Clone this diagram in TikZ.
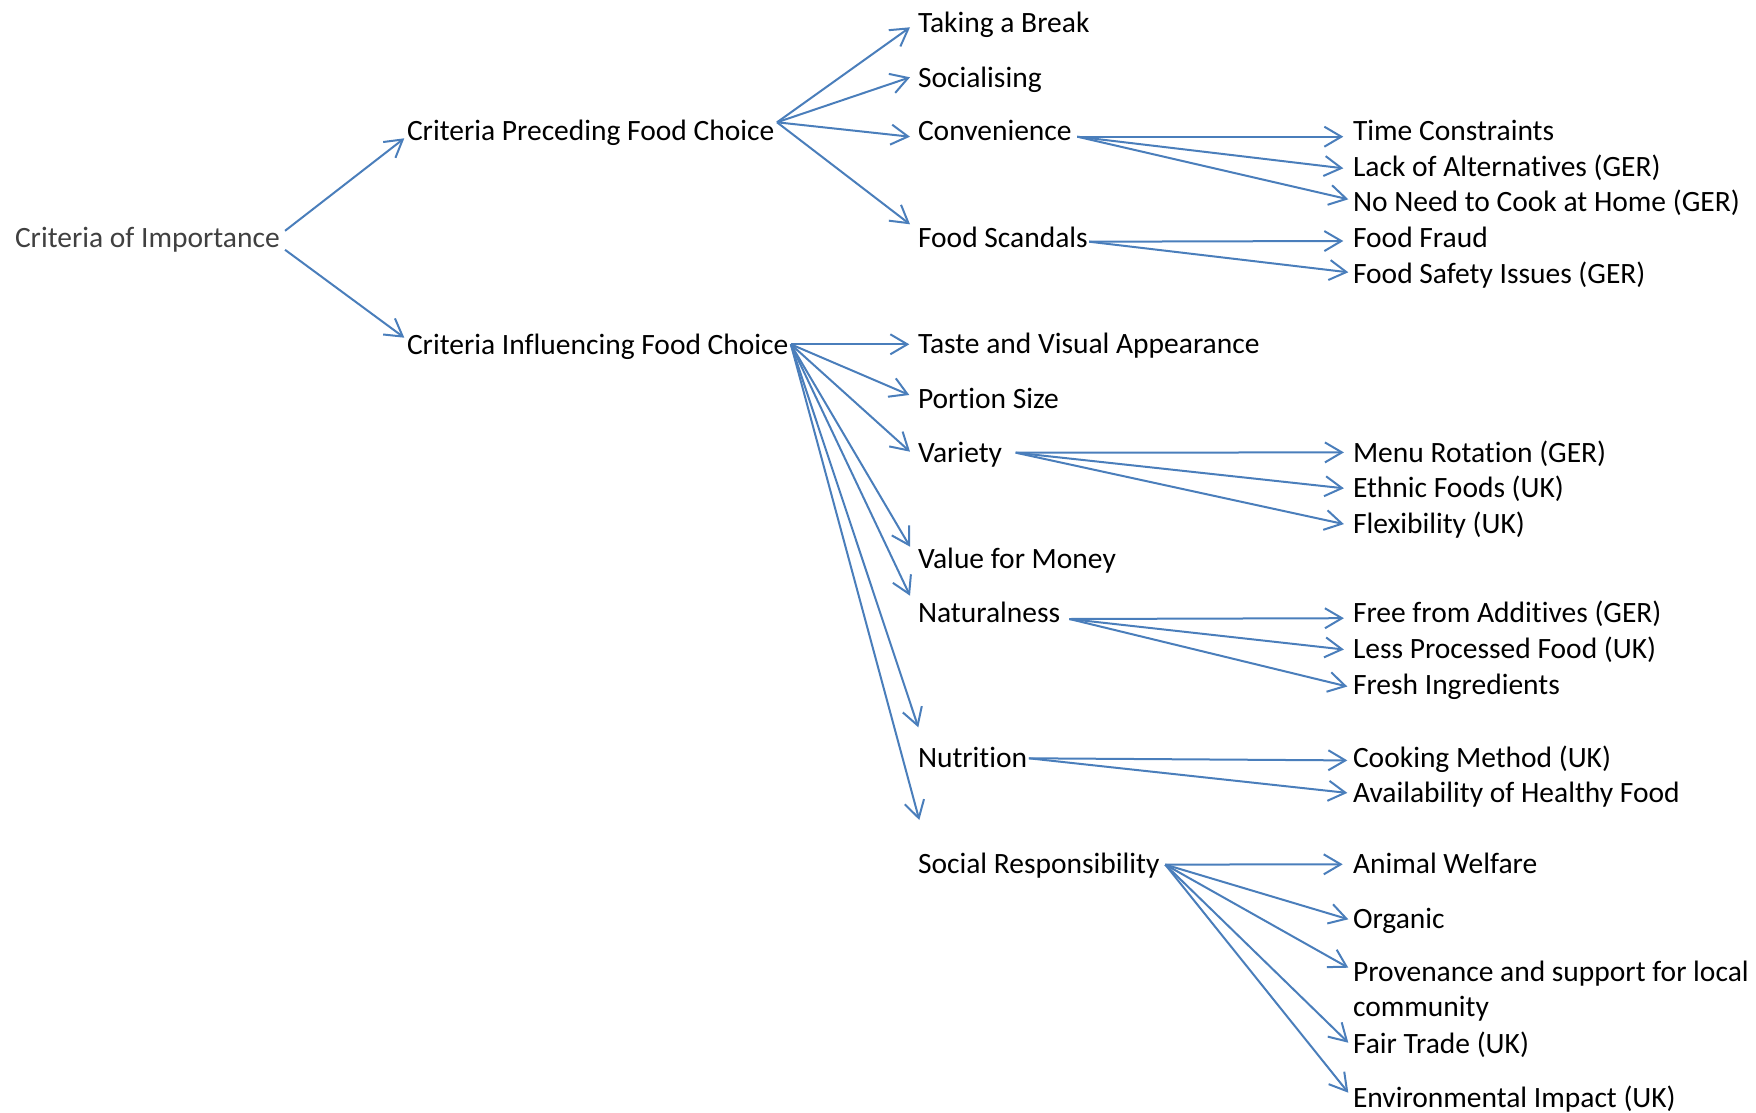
\documentclass[tikz,border=0pt]{standalone}
\usepackage{fontspec}
\setmainfont{Carlito}[RawFeature={-liga}]
\usetikzlibrary{arrows.meta}
\definecolor{linkblue}{RGB}{74,126,187}
\definecolor{rootgray}{RGB}{64,64,64}
\begin{document}
\begin{tikzpicture}[x=0.5pt,y=-0.5pt,
  lbl/.style={anchor=base west, inner sep=0pt, outer sep=0pt,
    text height=9.4pt, text depth=2.6pt,
    font=\fontsize{14.75pt}{17.5pt}\selectfont},
  arr/.style={draw=linkblue, line width=1pt,
    -{Straight Barb[length=8.5pt,width=10pt]}}]
\useasboundingbox (0,0) rectangle (1756,1113);

% root and first level
\node[lbl, text=rootgray] (coi) at (15,247) {Criteria of Importance};
\node[lbl] (cpfc) at (407,140.5) {Criteria Preceding Food Choice};
\node[lbl] (cifc) at (407,354.8) {Criteria Influencing Food Choice};

% second level
\node[lbl] (tab)     at (918,32.8)  {Taking a Break};
\node[lbl] (soc)     at (918,87.8)  {Socialising};
\node[lbl] (conv)    at (918,140.5) {Convenience};
\node[lbl] (fs)      at (918,247.2) {Food Scandals};
\node[lbl] (taste)   at (918,353.8) {Taste and Visual Appearance};
\node[lbl] (portion) at (918,408.2) {Portion Size};
\node[lbl] (variety) at (918,462.2) {Variety};
\node[lbl] (vfm)     at (918,568.8) {Value for Money};
\node[lbl] (nat)     at (918,622.8) {Naturalness};
\node[lbl] (nut)     at (918,767.2) {Nutrition};
\node[lbl] (sr)      at (918,873.8) {Social Responsibility};

% third level
\node[lbl] (tc)      at (1353,140.5)  {Time Constraints};
\node[lbl] (lack)    at (1353,176.2)  {Lack of Alternatives (GER)};
\node[lbl] (noneed)  at (1353,211.9)  {No Need to Cook at Home (GER)};
\node[lbl] (ff)      at (1353,247.6)  {Food Fraud};
\node[lbl] (fsi)     at (1353,283.3)  {Food Safety Issues (GER)};
\node[lbl] (menu)    at (1353,462.2)  {Menu Rotation (GER)};
\node[lbl] (ethnic)  at (1353,497.9)  {Ethnic Foods (UK)};
\node[lbl] (flex)    at (1353,533.6)  {Flexibility (UK)};
\node[lbl] (free)    at (1353,622.8)  {Free from Additives (GER)};
\node[lbl] (less)    at (1353,658.5)  {Less Processed Food (UK)};
\node[lbl] (fresh)   at (1353,694.2)  {Fresh Ingredients};
\node[lbl] (cook)    at (1353,767.2)  {Cooking Method (UK)};
\node[lbl] (avail)   at (1353,802.9)  {Availability of Healthy Food};
\node[lbl] (animal)  at (1353,873.8)  {Animal Welfare};
\node[lbl] (organic) at (1353,928.2)  {Organic};
\node[lbl] (prov)    at (1353,981.5)
  {\vtop{\hbox{Provenance and support for local}\hbox{community}}};
\node[lbl] (fair)    at (1353,1053.2) {Fair Trade (UK)};
\node[lbl] (env)     at (1353,1107.2) {Environmental Impact (UK)};

% connectors
\draw[arr] ([shift={(5.3,-9.4)}]coi.east) -- ([shift={(-2.7,4.6)}]cpfc.west);
\draw[arr] ([shift={(5.3,9.6)}]coi.east) -- ([shift={(-2.7,-10.3)}]cifc.west);

\foreach \n/\dx/\dy in {tab/-8/1.3, soc/-8/-3.7, conv/-8/3, fs/-8/-16.1}
  \draw[arr] ([shift={(2.7,-11.4)}]cpfc.east) -- ([shift={(\dx,\dy)}]\n.west);

\foreach \n/\dx/\dy in {taste/-8.7/-2.7, portion/-8.7/-6.4, variety/-8/-3.7,
    vfm/-8/-15.3, nat/-8/-20.3, nut/0.3/-33.1, sr/1.3/-47}
  \draw[arr] ([shift={(2.3,-3.7)}]cifc.east) -- ([shift={(\dx,\dy)}]\n.west);

\foreach \n/\dx/\dy in {tc/-9.7/3, lack/-9.7/-1.1, noneed/-4.7/-5.8}
  \draw[arr] ([shift={(5.7,3)}]conv.east) -- ([shift={(\dx,\dy)}]\n.west);

\foreach \n/\dx/\dy in {ff/-9.7/0.2, fsi/-4.7/-4.2}
  \draw[arr] ([shift={(1.3,1.3)}]fs.east) -- ([shift={(\dx,\dy)}]\n.west);

\foreach \n/\dx/\dy in {menu/-9.1/-3, ethnic/-9.1/-2.8, flex/-9.1/-2.7}
  \draw[arr] ([shift={(13.7,-2.7)}]variety.east) -- ([shift={(\dx,\dy)}]\n.west);

\foreach \n/\dx/\dy in {free/-9.1/2.2, less/-9.1/-2.2, fresh/-5.7/-0.9}
  \draw[arr] ([shift={(9.3,3)}]nat.east) -- ([shift={(\dx,\dy)}]\n.west);

\foreach \n/\dx/\dy in {cook/-5.7/0, avail/-5.7/-3.2}
  \draw[arr] ([shift={(1.7,-2.1)}]nut.east) -- ([shift={(\dx,\dy)}]\n.west);

\foreach \n/\dx/\dy in {animal/-10.3/-2.7, organic/-4.7/-2.1, prov/-4.7/-7,
    fair/-4.7/-3.7, env/-4.7/-7.7}
  \draw[arr] ([shift={(5.7,-2.4)}]sr.east) -- ([shift={(\dx,\dy)}]\n.west);
\end{tikzpicture}
\end{document}
